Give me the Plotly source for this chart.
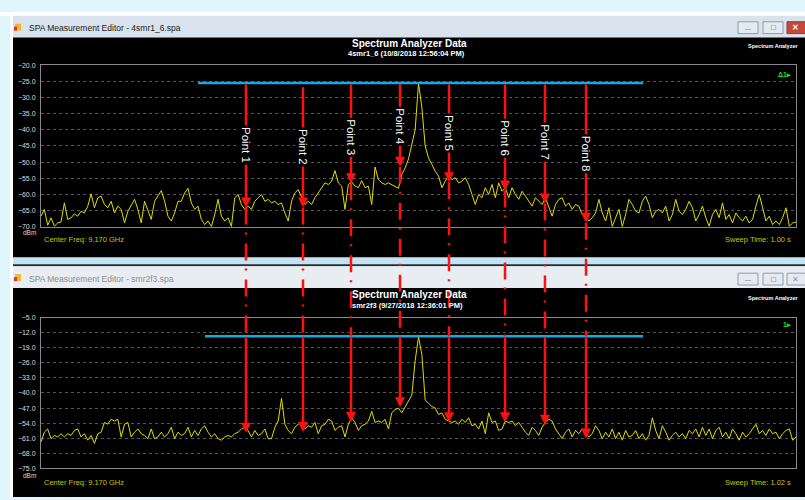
import numpy as np
import plotly.graph_objects as go

# ---------------- data ----------------
freq_span_ghz = [9.120, 9.220]          # sweep, center 9.170 GHz
top_axis_dbm = [-70.0, -20.0]
bottom_axis_dbm = [-75.0, -5.0]

top_trace_dbm = [
    -66.7, -64.6, -69.5, -67.2, -69.8, -68.8, -68.5, -62.6, -67.7, -67.2,
    -66.0, -66.7, -65.2, -65.7, -63.6, -59.8, -64.1, -61.0, -60.5, -63.1,
    -64.1, -62.1, -65.7, -63.6, -64.6, -68.8, -65.2, -63.1, -61.5, -64.6,
    -68.8, -62.1, -65.2, -67.7, -62.1, -60.5, -58.8, -62.1, -66.7, -68.2,
    -65.7, -62.1, -62.1, -59.5, -58.1, -62.6, -64.6, -63.6, -67.7, -69.3,
    -68.2, -69.9, -66.2, -61.5, -66.7, -68.2, -67.2, -69.9, -61.0, -60.0,
    -63.1, -64.6, -63.6, -64.6, -62.1, -61.0, -60.0, -62.1, -61.5, -62.6,
    -62.1, -63.1, -62.6, -65.7, -68.2, -62.1, -59.5, -58.5, -61.0, -63.1,
    -62.1, -63.1, -61.0, -59.5, -57.7, -56.4, -56.9, -55.9, -52.6, -56.4,
    -57.4, -64.6, -56.9, -56.1, -57.4, -57.9, -55.7, -57.9, -57.4, -63.1,
    -51.5, -55.4, -56.4, -56.9, -56.4, -56.9, -57.4, -58.1, -53.8, -51.8,
    -49.0, -44.0, -40.0,
    -25.5, -33.0, -45.0, -48.7, -50.7, -52.8, -54.3, -57.9, -55.9, -54.3,
    -55.4, -54.8, -56.4, -55.9, -54.8, -56.9, -60.0, -63.1, -60.0, -61.0,
    -57.9, -60.0, -56.9, -61.0, -56.4, -59.0, -57.9, -61.0, -57.9, -60.0,
    -61.5, -59.0, -60.5, -62.1, -63.6, -61.0, -62.1, -63.1, -61.0, -63.6,
    -66.7, -63.1, -61.5, -61.0, -63.6, -62.6, -64.6, -63.1, -63.6, -66.2,
    -66.7, -68.2, -67.2, -65.7, -61.5, -65.7, -68.2, -64.1, -69.9, -67.2,
    -64.6, -69.9, -66.2, -61.5, -63.1, -65.2, -65.7, -62.1, -60.5, -63.1,
    -67.2, -65.2, -64.6, -65.7, -63.6, -68.2, -66.2, -61.5, -65.2, -66.2,
    -64.6, -62.1, -64.1, -68.2, -66.2, -63.6, -67.2, -69.8, -66.2, -64.6,
    -67.2, -62.6, -67.7, -66.2, -68.8, -65.7, -67.2, -68.2, -66.7, -68.8,
    -67.7, -63.6, -60.0, -64.1, -68.2, -66.7, -69.3, -68.2, -69.3, -67.2,
    -64.1, -69.8, -68.8, -68.5,
]

bottom_trace_dbm = [
    -62.7, -58.2, -56.7, -61.2, -59.7, -60.4, -58.9, -60.4, -58.9, -59.7,
    -57.4, -56.7, -60.4, -58.9, -61.9, -59.7, -63.4, -58.9, -58.2, -53.7,
    -54.5, -52.2, -53.0, -52.2, -60.4, -54.5, -53.7, -60.4, -58.2, -56.7,
    -58.9, -59.7, -61.2, -56.7, -61.2, -60.4, -58.2, -60.4, -58.9, -55.9,
    -61.2, -58.2, -59.7, -58.9, -55.9, -60.4, -57.4, -59.7, -56.7, -55.2,
    -58.2, -60.4, -58.9, -61.2, -61.9, -60.4, -59.7, -60.4, -58.9, -58.2,
    -56.7, -55.9, -57.4, -60.4, -57.4, -59.7, -58.9, -56.7, -61.2, -61.2,
    -55.9, -53.0, -42.5, -54.5, -57.4, -58.9, -55.9, -54.5, -53.7, -56.7,
    -55.2, -55.9, -53.7, -58.9, -55.2, -54.5, -52.2, -53.0, -57.4, -55.9,
    -55.2, -60.4, -54.5, -51.5, -53.7, -57.4, -55.2, -54.5, -53.0, -48.5,
    -53.7, -53.0, -53.7, -52.2, -56.7, -49.2, -47.7, -47.0, -49.2, -46.3,
    -44.0, -41.0, -25.0,
    -14.0, -22.0, -43.3, -44.8, -46.3, -47.0, -50.0, -49.2, -52.2, -53.0,
    -53.7, -53.0, -54.5, -52.2, -53.7, -51.5, -55.2, -54.5, -56.7, -53.0,
    -58.9, -49.2, -53.7, -53.0, -57.4, -56.7, -53.0, -53.7, -53.0, -55.2,
    -53.7, -55.9, -58.2, -59.7, -55.9, -57.4, -59.7, -55.9, -53.7, -52.2,
    -53.0, -56.7, -58.9, -61.2, -58.2, -56.7, -60.4, -57.4, -58.9, -56.7,
    -58.2, -60.4, -58.9, -55.2, -57.4, -61.2, -58.2, -60.4, -56.7, -61.2,
    -58.2, -61.9, -57.4, -60.4, -59.7, -57.4, -61.2, -58.9, -61.9, -59.7,
    -51.5, -57.4, -61.2, -55.2, -58.2, -61.9, -59.7, -58.2, -60.4, -58.9,
    -61.2, -57.4, -58.9, -56.7, -60.4, -55.9, -59.7, -56.7, -61.2, -57.4,
    -55.9, -60.4, -58.2, -61.2, -56.7, -58.9, -61.9, -58.2, -60.4, -58.9,
    -56.7, -54.5, -58.9, -57.4, -59.7, -56.7, -58.9, -58.2, -61.2, -58.9,
    -57.4, -56.7, -61.9, -60.4,
]

marker_names = ["Point 1", "Point 2", "Point 3", "Point 4",
                "Point 5", "Point 6", "Point 7", "Point 8"]
marker_freq_ghz = [9.14715, 9.15470, 9.16106, 9.16755,
                   9.17404, 9.18146, 9.18675, 9.19219]
top_marker_dbm = [-64.0, -64.0, -56.5, -51.4, -56.2, -58.8, -62.8, -68.7]
top_marker_start_dbm = [-25.5, -26.4, -25.5, -25.5, -25.5, -25.5, -25.5, -25.5]
top_label_dbm = [-44.7, -45.3, -42.3, -38.9, -41.0, -42.6, -43.8, -47.4]
bottom_marker_dbm = [-58.5, -58.1, -53.5, -46.6, -53.6, -53.6, -54.7, -61.1]

top_ref_freq = [9.1408, 9.19974]
top_ref_dbm = -25.5
bottom_ref_freq = [9.14172, 9.19974]
bottom_ref_dbm = -13.7

# ---------------- layout helpers ----------------
W, H = 805, 500


def px(x):
    return x / W


def py(y):
    return 1 - y / H


X_DOM = [px(41), px(796)]
TOP_DOM = [py(226), py(62)]
BOT_DOM = [py(471), py(318)]


def y_paper(v, rng, dom):
    return dom[0] + (v - rng[0]) / (rng[1] - rng[0]) * (dom[1] - dom[0])


YELLOW = "#e0dc00"
RED = "#ff1010"
BLUE = "#1ea4e0"
FONT = "Liberation Sans"

fig = go.Figure()

freq_top = np.linspace(freq_span_ghz[0], freq_span_ghz[1], len(top_trace_dbm))
freq_bot = np.linspace(freq_span_ghz[0], freq_span_ghz[1], len(bottom_trace_dbm))

fig.add_trace(go.Scatter(x=freq_top, y=top_trace_dbm, mode="lines",
                         line=dict(color=YELLOW, width=1), xaxis="x", yaxis="y",
                         hoverinfo="skip"))
fig.add_trace(go.Scatter(x=top_ref_freq, y=[top_ref_dbm] * 2, mode="lines",
                         line=dict(color=BLUE, width=2.5), xaxis="x", yaxis="y"))
fig.add_trace(go.Scatter(x=freq_bot, y=bottom_trace_dbm, mode="lines",
                         line=dict(color=YELLOW, width=1), xaxis="x2", yaxis="y2",
                         hoverinfo="skip"))
fig.add_trace(go.Scatter(x=bottom_ref_freq, y=[bottom_ref_dbm] * 2, mode="lines",
                         line=dict(color=BLUE, width=2.5), xaxis="x2", yaxis="y2"))

shapes = []


def rect(x0, y0, x1, y1, fill, line_color=None, layer="below", lw=1):
    shapes.append(dict(type="rect", xref="paper", yref="paper",
                       x0=px(x0), x1=px(x1), y0=py(y1), y1=py(y0),
                       fillcolor=fill, layer=layer,
                       line=dict(color=line_color or fill, width=lw if line_color else 0)))


# outer frame / windows
rect(0, 8, 805, 12, "#ffffff")
rect(10, 8, 13, 500, "#ffffff")
rect(13, 12, 805, 34, "#d9e3ee")          # top title bar
rect(13, 34, 805, 257, "#000000")         # top black panel
rect(13, 257, 805, 264, "#c4e2f2")
rect(13, 264, 805, 266, "#1c2e38")
rect(13, 266, 805, 288, "#e8edf2")        # bottom title bar
rect(13, 288, 805, 500, "#000000")        # bottom black panel

# window icons
rect(15, 20, 21, 27, "#f2b632")
rect(14, 23, 17, 27, "#d43a2a")
rect(15, 274, 21, 281, "#f2b632")
rect(14, 277, 17, 281, "#d43a2a")

# window buttons
for (y0, y1, active) in [(18, 30, True), (273, 285, False)]:
    rect(738, y0, 758, y1, "#e4eaf1", "#8e9aa8")
    rect(763, y0, 783, y1, "#e4eaf1", "#8e9aa8")
    rect(787, y0, 806, y1, "#c8473a" if active else "#e4eaf1",
         "#8e3a30" if active else "#8e9aa8")

# dash-dot marker connectors between the two displays
for f, t in zip(marker_freq_ghz, top_marker_dbm):
    shapes.append(dict(type="line", xref="x", yref="paper", x0=f, x1=f,
                       y0=y_paper(t, top_axis_dbm, TOP_DOM),
                       y1=y_paper(bottom_ref_dbm, bottom_axis_dbm, BOT_DOM),
                       line=dict(color=RED, width=2.5, dash="17px,8px,2px,9px"),
                       layer="above"))

annotations = []

# solid marker arrows
for f, t, s in zip(marker_freq_ghz, top_marker_dbm, top_marker_start_dbm):
    annotations.append(dict(x=f, y=t, ax=f, ay=s, xref="x", yref="y",
                            axref="x", ayref="y", text="", showarrow=True,
                            arrowhead=2, arrowsize=0.8, arrowwidth=2.5,
                            arrowcolor=RED))
for f, b in zip(marker_freq_ghz, bottom_marker_dbm):
    annotations.append(dict(x=f, y=b, ax=f, ay=bottom_ref_dbm, xref="x2", yref="y2",
                            axref="x2", ayref="y2", text="", showarrow=True,
                            arrowhead=2, arrowsize=0.8, arrowwidth=2.5,
                            arrowcolor=RED))
# marker labels
for name, f, l in zip(marker_names, marker_freq_ghz, top_label_dbm):
    annotations.append(dict(x=f, y=l, xref="x", yref="y", text=name,
                            textangle=90, showarrow=False, bgcolor="#000000",
                            borderpad=1,
                            font=dict(family=FONT, size=11.5, color="#ffffff")))


def label(text, x, y, size, color, xanchor="center", bold=False, family=FONT):
    annotations.append(dict(x=px(x), y=py(y), xref="paper", yref="paper",
                            text=f"<b>{text}</b>" if bold else text,
                            showarrow=False, xanchor=xanchor, yanchor="middle",
                            font=dict(family=family, size=size, color=color)))


# window captions
label("SPA Measurement Editor - 4smr1_6.spa", 27, 24, 8.5, "#1a1a1a", "left")
label("SPA Measurement Editor - smr2f3.spa", 27, 279, 8.5, "#8c8c8c", "left")
label("—", 748, 25, 6, "#4a5360")
label("□", 773, 24, 8, "#4a5360")
label("✕", 795, 24, 8, "#ffffff", bold=True)
label("—", 748, 280, 6, "#4a5360")
label("□", 773, 279, 8, "#4a5360")
label("✕", 795, 279, 8, "#8e9aa8")

# chart titles
label("Spectrum Analyzer Data", 409, 40, 10, "#ffffff", bold=True)
label("4smr1_6 (10/8/2018 12:56:04 PM)", 406, 50, 7.5, "#ffffff", bold=True)
label("Spectrum Analyzer Data", 409, 295, 10, "#ffffff", bold=True)
label("smr2f3 (9/27/2018 12:36:01 PM)", 407, 306, 7.5, "#ffffff", bold=True)
label("Spectrum Analyzer", 800, 43, 5.5, "#ffffff", "right", bold=True)
label("Spectrum Analyzer", 800, 298, 5.5, "#ffffff", "right", bold=True)
label("Δ1▸", 793, 71, 7, "#22e022", "right", bold=True)
label("1▸", 793, 325, 7, "#22e022", "right", bold=True)

# footers
label("dBm", 21, 232, 6.5, "#d8d8d8", "left")
label("Center Freq: 9.170 GHz", 42, 239, 7.5, "#c8c400", "left")
label("Sweep Time: 1.00 s", 793, 239, 7.5, "#c8c400", "right")
label("dBm", 21, 478, 6.5, "#d8d8d8", "left")
label("Center Freq: 9.170 GHz", 42, 485, 7.5, "#c8c400", "left")
label("Sweep Time: 1.02 s", 793, 485, 7.5, "#c8c400", "right")

axis_common = dict(showline=True, mirror=True, linecolor="#8a8a8a", linewidth=1,
                   zeroline=False)
yaxis_common = dict(axis_common, showgrid=True, gridcolor="#555555", griddash="dot",
                    gridwidth=1, ticks="", tickformat=".1f", ticklabelstandoff=3,
                    tickfont=dict(family=FONT, size=7, color="#dcdcdc"))

fig.update_layout(
    width=W, height=H, margin=dict(l=0, r=0, t=0, b=0),
    paper_bgcolor="#dff6fc", plot_bgcolor="#000000", showlegend=False,
    hovermode=False,
    xaxis=dict(axis_common, domain=X_DOM, range=freq_span_ghz, showgrid=False,
               showticklabels=False, ticks="", anchor="y"),
    yaxis=dict(yaxis_common, domain=TOP_DOM, range=top_axis_dbm, tick0=-20, dtick=5,
               anchor="x"),
    xaxis2=dict(axis_common, domain=X_DOM, range=freq_span_ghz, showgrid=False,
                showticklabels=False, ticks="", anchor="y2"),
    yaxis2=dict(yaxis_common, domain=BOT_DOM, range=bottom_axis_dbm, tick0=-5, dtick=7,
                anchor="x2"),
    shapes=shapes, annotations=annotations,
)

fig.write_html("out.html",
               config={"displayModeBar": False, "staticPlot": True},
               post_script="document.body.style.margin='0';"
                           "document.body.style.overflow='hidden';")
